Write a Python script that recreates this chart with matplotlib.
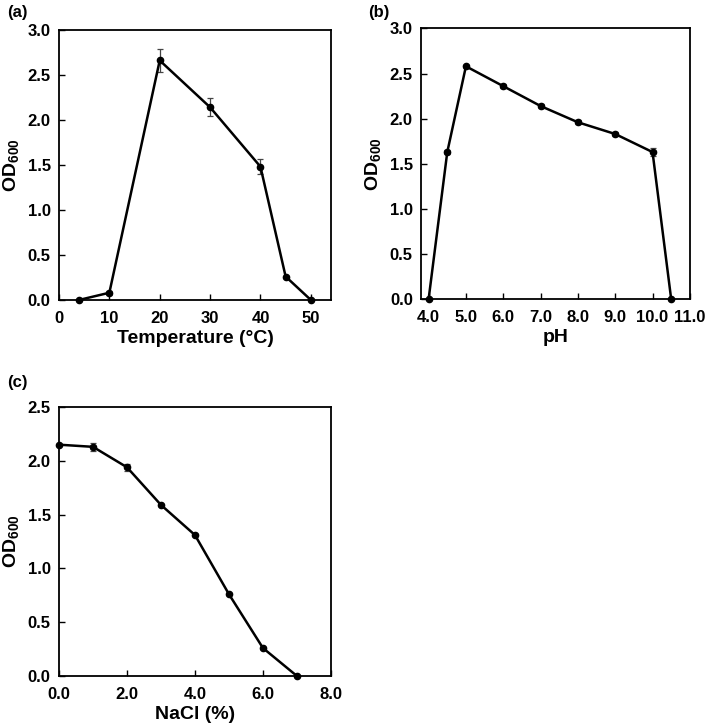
import matplotlib
matplotlib.use('Agg')
import matplotlib.pyplot as plt

plt.rcParams['font.family'] = ['Liberation Sans', 'DejaVu Sans']
plt.rcParams['font.weight'] = 'bold'
plt.rcParams['mathtext.fontset'] = 'custom'
plt.rcParams['mathtext.rm'] = 'Liberation Sans:bold'
plt.rcParams['mathtext.bf'] = 'Liberation Sans:bold'
plt.rcParams['mathtext.default'] = 'bf'

# (a) temperature
temp = [4, 10, 20, 30, 40, 45, 50]
temp_od = [0.0, 0.08, 2.66, 2.14, 1.48, 0.26, 0.0]
temp_err = [0.0, 0.02, 0.13, 0.10, 0.08, 0.01, 0.0]

# (b) pH
ph = [4.0, 4.5, 5.0, 6.0, 7.0, 8.0, 9.0, 10.0, 10.5]
ph_od = [0.0, 1.63, 2.58, 2.36, 2.14, 1.96, 1.83, 1.63, 0.0]
ph_err = [0.0, 0.02, 0.02, 0.02, 0.02, 0.02, 0.02, 0.04, 0.0]

# (c) NaCl
nacl = [0, 1, 2, 3, 4, 5, 6, 7]
nacl_od = [2.15, 2.13, 1.94, 1.59, 1.31, 0.76, 0.26, 0.0]
nacl_err = [0.0, 0.04, 0.03, 0.01, 0.01, 0.01, 0.01, 0.0]

fig = plt.figure(figsize=(7.09, 7.28), dpi=100)

ax1 = fig.add_axes([0.0832, 0.588, 0.3836, 0.371])
ax2 = fig.add_axes([0.594, 0.589, 0.379, 0.372])
ax3 = fig.add_axes([0.0832, 0.0714, 0.3836, 0.3695])


def draw(ax, x, y, err, xlim, ylim, xticks, xlabels, yticks, xlab):
    ax.errorbar(x, y, yerr=err, color='black', lw=1.8, marker='o', ms=4.5,
                ecolor='#444444', elinewidth=0.9, capsize=2.5, capthick=0.9,
                clip_on=False, zorder=3)
    ax.set_xlim(*xlim)
    ax.set_ylim(*ylim)
    ax.set_xticks(xticks)
    ax.set_xticklabels(xlabels)
    ax.set_yticks(yticks)
    ax.set_yticklabels(['%.1f' % v for v in yticks])
    ax.tick_params(direction='in', length=4, width=1, labelsize=12)
    ax.tick_params(axis='x', pad=8)
    ax.tick_params(axis='y', pad=6)
    for lab in ax.get_xticklabels() + ax.get_yticklabels():
        lab.set_fontweight('bold')
    for s in ax.spines.values():
        s.set_linewidth(1.3)
    ax.set_xlabel(xlab, fontsize=14, fontweight='bold', labelpad=3)
    ax.set_ylabel(r'OD$_{600}$', fontsize=14, fontweight='bold', labelpad=5)


draw(ax1, temp, temp_od, temp_err, (0, 54), (0, 3.0),
     [0, 10, 20, 30, 40, 50], ['0', '10', '20', '30', '40', '50'],
     [0, 0.5, 1.0, 1.5, 2.0, 2.5, 3.0], 'Temperature (°C)')
draw(ax2, ph, ph_od, ph_err, (3.8, 11.0), (0, 3.0),
     [4, 5, 6, 7, 8, 9, 10, 11],
     ['4.0', '5.0', '6.0', '7.0', '8.0', '9.0', '10.0', '11.0'],
     [0, 0.5, 1.0, 1.5, 2.0, 2.5, 3.0], 'pH')
draw(ax3, nacl, nacl_od, nacl_err, (0, 8), (0, 2.5),
     [0, 2, 4, 6, 8], ['0.0', '2.0', '4.0', '6.0', '8.0'],
     [0, 0.5, 1.0, 1.5, 2.0, 2.5], 'NaCl (%)')

fig.text(7 / 709, 1 - 12 / 728, '(a)', fontsize=12, fontweight='bold', va='center')
fig.text(368 / 709, 1 - 12 / 728, '(b)', fontsize=12, fontweight='bold', va='center')
fig.text(7 / 709, 1 - 383 / 728, '(c)', fontsize=12, fontweight='bold', va='center')

fig.savefig('out.png', dpi=100)
